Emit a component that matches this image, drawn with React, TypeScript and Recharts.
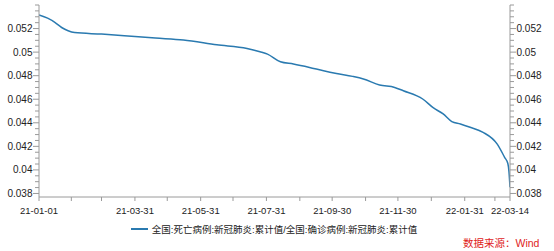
import { LineChart, Line, XAxis, YAxis, CartesianGrid, Legend } from "recharts";

const SERIES_NAME = "全国:死亡病例:新冠肺炎:累计值/全国:确诊病例:新冠肺炎:累计值";

const DATES = [
  "2021-01-01", "2021-01-09", "2021-01-16", "2021-01-22", "2021-01-28", "2021-02-03",
  "2021-02-28", "2021-03-31", "2021-04-19", "2021-05-15", "2021-06-15", "2021-07-13",
  "2021-07-25", "2021-08-01", "2021-08-13", "2021-08-25", "2021-09-09", "2021-09-22",
  "2021-10-04", "2021-10-19", "2021-10-29", "2021-11-13", "2021-11-27", "2021-12-05",
  "2021-12-23", "2022-01-02", "2022-01-11", "2022-01-19", "2022-01-27", "2022-02-05",
  "2022-02-17", "2022-03-02", "2022-03-09", "2022-03-12", "2022-03-13", "2022-03-14",
];
const RATIO = [
  0.05316, 0.05288, 0.05251, 0.05209, 0.05181, 0.05166,
  0.05153, 0.05132, 0.05119, 0.05102, 0.05062, 0.05031,
  0.05003, 0.04983, 0.04918, 0.04899, 0.0487, 0.04842,
  0.04819, 0.04794, 0.04772, 0.04721, 0.047, 0.04672,
  0.04602, 0.04526, 0.04475, 0.0441, 0.0439, 0.04362,
  0.04319, 0.04221, 0.04107, 0.04054, 0.0399, 0.03853,
];

const X_TICKS = [
  "2021-01-01", "2021-01-31", "2021-02-28", "2021-03-31", "2021-04-30", "2021-05-31",
  "2021-06-30", "2021-07-31", "2021-08-31", "2021-09-30", "2021-10-31", "2021-11-30",
  "2021-12-31", "2022-01-31", "2022-02-28", "2022-03-14",
];
const X_LABELED = ["2021-01-01", "2021-03-31", "2021-05-31", "2021-07-31", "2021-09-30", "2021-11-30", "2022-01-31", "2022-03-14"];

const Y_MAJOR = [0.038, 0.04, 0.042, 0.044, 0.046, 0.048, 0.05, 0.052];
const Y_DOMAIN = [0.0377, 0.054];
const Y_TICKS: number[] = [];
for (let k = 0; k <= 32; k++) Y_TICKS.push(Math.round((0.038 + k * 0.0005) * 10000) / 10000);

const START = Date.UTC(2021, 0, 1);
function dayOf(s: string) {
  const [y, m, d] = s.split("-").map(Number);
  return (Date.UTC(y, m - 1, d) - START) / 86400000;
}

const data = DATES.map((d, i) => ({ t: dayOf(d), v: RATIO[i] }));
const xTicks = X_TICKS.map(dayOf);
const xLabels = new Map(X_LABELED.map((d) => [dayOf(d), d.slice(2)]));

const FONT = '"Liberation Sans", Arial, "Noto Sans CJK SC", sans-serif';
const AXIS = "#9a9a9a";
const TEXT = "#222";
const BLUE = "#2a7ab0";

function XTick(props: any) {
  const { x, y, payload } = props;
  const label = xLabels.get(payload.value);
  if (!label) return null;
  return (
    <text x={x} y={y} dy="0.71em" textAnchor="middle" fontSize={9.5} fill={TEXT} fontFamily={FONT}>
      {label}
    </text>
  );
}

function YTick(props: any) {
  const { x, y, payload, orientation } = props;
  const major = Y_MAJOR.some((m) => Math.abs(m - payload.value) < 1e-7);
  if (!major) return null;
  const left = orientation !== "right";
  // extend major ticks a little beyond the minor ones
  const lx1 = left ? x : x - 2;
  const lx2 = left ? x + 2 : x;
  return (
    <g>
      <line x1={lx1} x2={lx2} y1={y} y2={y} stroke={AXIS} />
      <text
        x={left ? x - 0.5 : x + 0.5}
        y={y}
        dy="0.355em"
        textAnchor={left ? "end" : "start"}
        fontSize={10}
        fill={TEXT}
        fontFamily={FONT}
      >
        {String(payload.value)}
      </text>
    </g>
  );
}

function LegendContent() {
  return (
    <div
      style={{
        display: "flex",
        justifyContent: "center",
        alignItems: "center",
        height: 16,
        fontSize: 9.5,
        color: TEXT,
        fontFamily: FONT,
      }}
    >
      <svg width={17} height={4} style={{ marginRight: 4 }}>
        <line x1={0} x2={17} y1={2} y2={2} stroke={BLUE} strokeWidth={2} />
      </svg>
      <span>{SERIES_NAME}</span>
    </div>
  );
}

export default function App() {
  return (
    <div style={{ position: "absolute", left: 0, top: 0, width: 554, height: 251, background: "#fff" }}>
      <LineChart width={554} height={251} data={data} margin={{ top: 5, right: 0, left: 0, bottom: 14 }}>
        <CartesianGrid
          vertical={false}
          horizontalValues={Y_MAJOR}
          stroke="#dcdcdc"
          strokeDasharray="3 3"
        />
        <XAxis
          dataKey="t"
          type="number"
          domain={[xTicks[0], xTicks[xTicks.length - 1]]}
          ticks={xTicks}
          interval={0}
          height={24}
          tickSize={4}
          tickMargin={6}
          stroke={AXIS}
          tick={<XTick />}
          allowDataOverflow
        />
        <YAxis
          yAxisId="left"
          type="number"
          domain={Y_DOMAIN}
          ticks={Y_TICKS}
          interval={0}
          width={39}
          tickSize={4}
          tickMargin={2}
          stroke={AXIS}
          tick={<YTick orientation="left" />}
          allowDataOverflow
        />
        <YAxis
          yAxisId="right"
          orientation="right"
          type="number"
          domain={Y_DOMAIN}
          ticks={Y_TICKS}
          interval={0}
          width={44}
          tickSize={4}
          tickMargin={2}
          stroke={AXIS}
          tick={<YTick orientation="right" />}
          allowDataOverflow
        />
        <Legend verticalAlign="bottom" content={<LegendContent />} wrapperStyle={{ left: 0, width: 548 }} />
        <Line
          yAxisId="left"
          dataKey="v"
          name={SERIES_NAME}
          type="monotone"
          stroke={BLUE}
          strokeWidth={1.5}
          dot={false}
          isAnimationActive={false}
        />
      </LineChart>
      <div
        style={{
          position: "absolute",
          left: 463,
          top: 236,
          fontSize: 10.5,
          lineHeight: "14px",
          color: "#e0231c",
          fontFamily: FONT,
          whiteSpace: "nowrap",
        }}
      >
        数据来源：Wind
      </div>
    </div>
  );
}
